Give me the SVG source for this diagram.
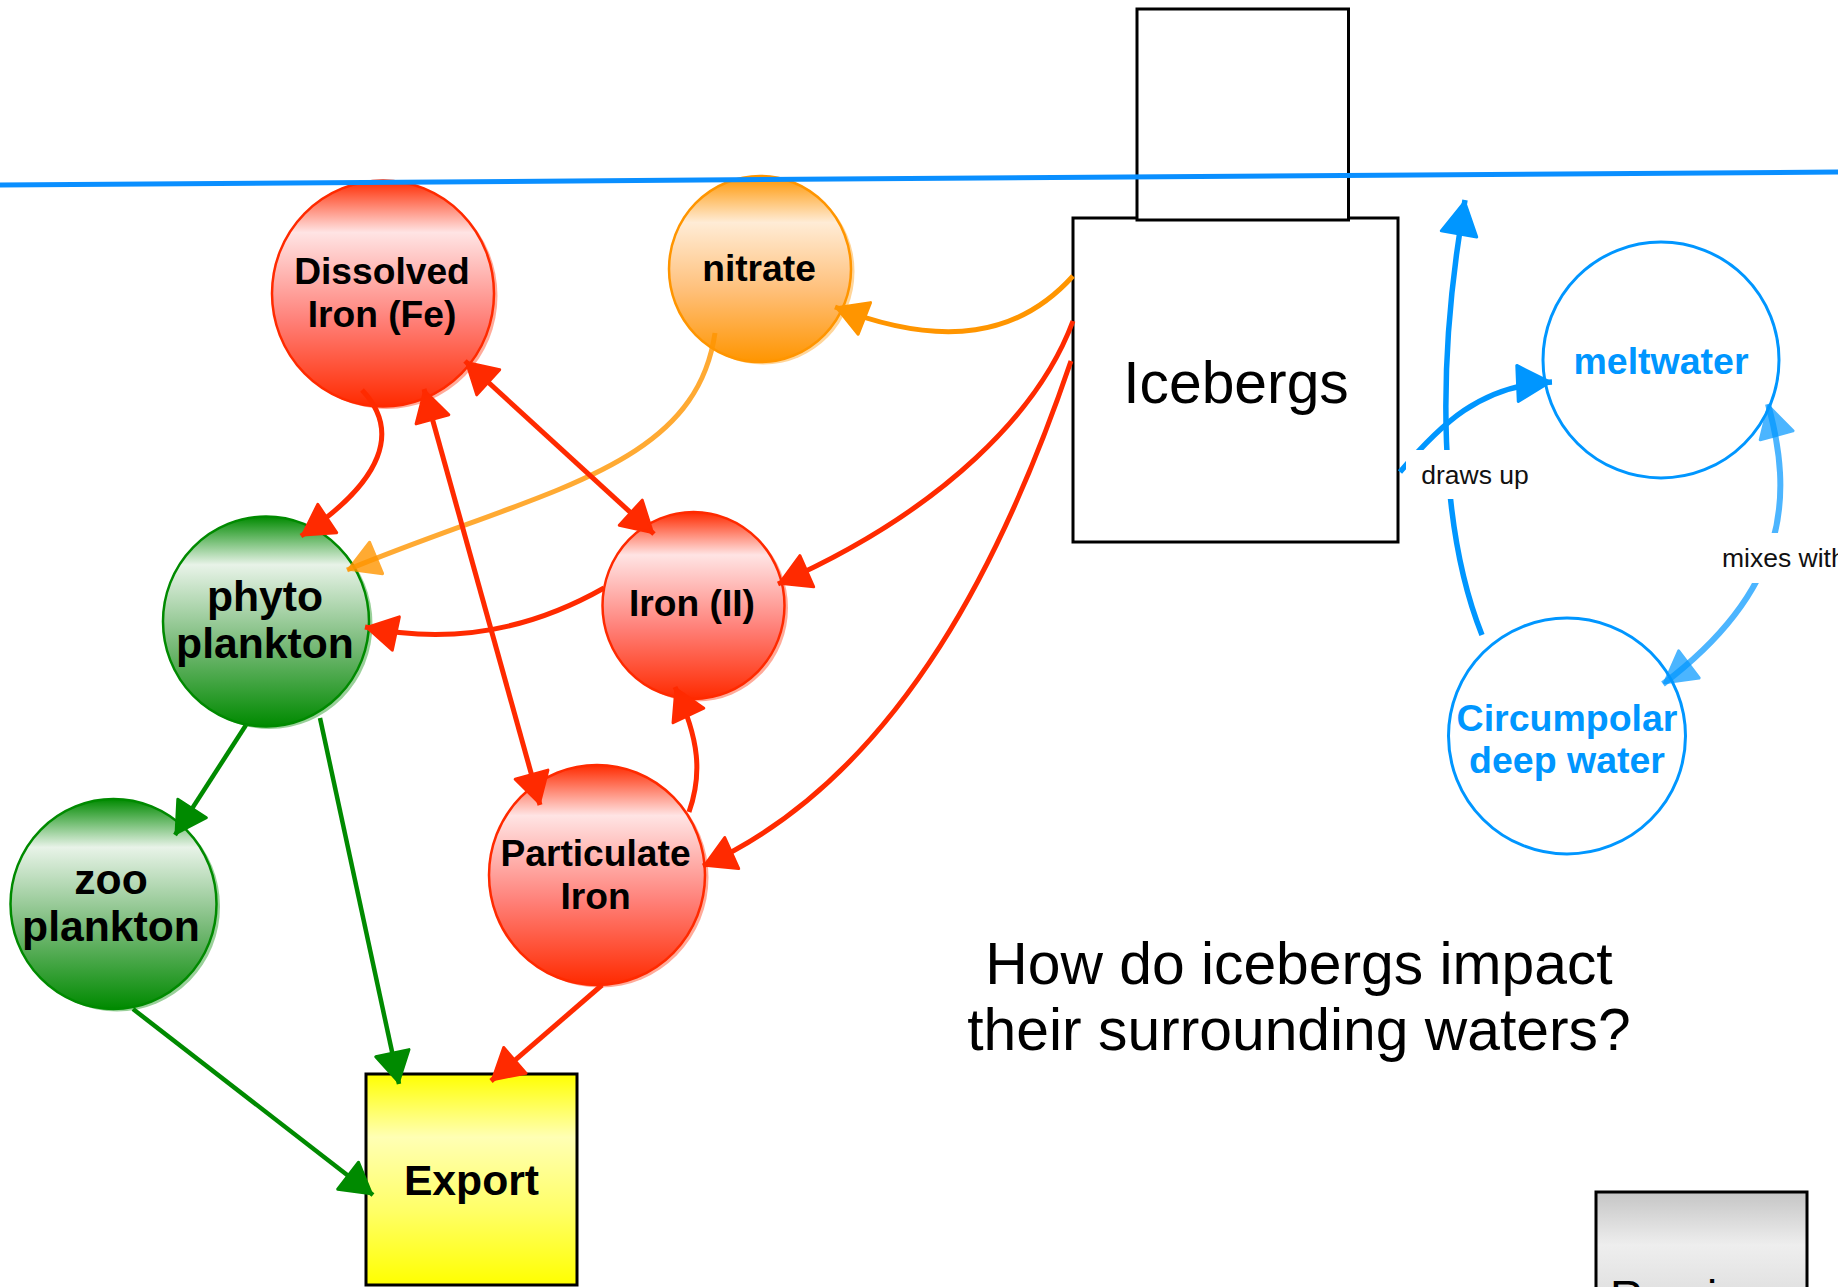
<svg xmlns="http://www.w3.org/2000/svg" width="1838" height="1287" viewBox="0 0 1838 1287">
<style>
text{font-family:"Liberation Sans",Arial,sans-serif;text-anchor:middle;fill:#000}
.b{font-weight:bold;font-size:37.200px}
.g{font-weight:bold;font-size:42.700px}
.w{font-weight:bold;font-size:37.500px;fill:#0096ff}
.l{font-size:26.500px;fill:#111}
.t{font-size:58.800px}
.box{stroke:#000;stroke-width:3;fill:#fff}
.blue{fill:#fff;stroke:#0096ff;stroke-width:3}
.c{fill:none;stroke-width:5}
.red{stroke:#ff2a00}.grn{stroke:#008a00;stroke-width:4.500}.org{stroke:#ff9500}.org2{stroke:#ff9500;stroke-opacity:.8}
.blu{stroke:#0096ff;stroke-width:5.500}.blu2{stroke:#0096ff;stroke-opacity:.7;stroke-width:6}
.sh{opacity:.4}
</style>
<defs>
<linearGradient id="gr" x1="0" y1="0" x2="0" y2="1"><stop offset="0" stop-color="#ff2a00"/><stop offset=".23" stop-color="#ffe4e4"/><stop offset=".62" stop-color="#ff8078"/><stop offset="1" stop-color="#ff2a00"/></linearGradient>
<linearGradient id="gg" x1="0" y1="0" x2="0" y2="1"><stop offset="0" stop-color="#008a00"/><stop offset=".23" stop-color="#e8f3e8"/><stop offset=".62" stop-color="#76b976"/><stop offset="1" stop-color="#008a00"/></linearGradient>
<linearGradient id="go" x1="0" y1="0" x2="0" y2="1"><stop offset="0" stop-color="#ff9500"/><stop offset=".25" stop-color="#ffecd6"/><stop offset=".62" stop-color="#ffbf78"/><stop offset="1" stop-color="#ff9500"/></linearGradient>
<linearGradient id="gy" x1="0" y1="0" x2="0" y2="1"><stop offset="0" stop-color="#ffff00"/><stop offset=".3" stop-color="#ffffb4"/><stop offset=".65" stop-color="#ffff66"/><stop offset="1" stop-color="#ffff00"/></linearGradient>
<linearGradient id="gs" gradientUnits="userSpaceOnUse" x1="0" y1="1191" x2="0" y2="1400"><stop offset="0" stop-color="#c4c4c4"/><stop offset=".26" stop-color="#eeeeee"/><stop offset=".5" stop-color="#e0e0e0"/><stop offset="1" stop-color="#c4c4c4"/></linearGradient>
<marker id="mr" markerUnits="userSpaceOnUse" markerWidth="40" markerHeight="44" refX="33" refY="20" orient="auto-start-reverse" overflow="visible"><path d="M1.500,3 L31,20 L1.500,37z" fill="#ff2a00" stroke="#ff2a00" stroke-width="3" stroke-linejoin="round"/></marker>
<marker id="mg" markerUnits="userSpaceOnUse" markerWidth="40" markerHeight="44" refX="33" refY="20" orient="auto" overflow="visible"><path d="M1.500,3 L31,20 L1.500,37z" fill="#008a00" stroke="#008a00" stroke-width="3" stroke-linejoin="round"/></marker>
<marker id="mo" markerUnits="userSpaceOnUse" markerWidth="40" markerHeight="44" refX="33" refY="20" orient="auto" overflow="visible"><path d="M1.500,3 L31,20 L1.500,37z" fill="#ff9500" stroke="#ff9500" stroke-width="3" stroke-linejoin="round"/></marker>
<marker id="mo2" markerUnits="userSpaceOnUse" markerWidth="40" markerHeight="44" refX="33" refY="20" orient="auto" overflow="visible"><path d="M1.500,3 L31,20 L1.500,37z" fill="#ff9500" stroke="#ff9500" stroke-width="3" stroke-linejoin="round" opacity=".8"/></marker>
<marker id="mb" markerUnits="userSpaceOnUse" markerWidth="44" markerHeight="44" refX="36" refY="20" orient="auto" overflow="visible"><path d="M1.500,2 L34,20 L1.500,38z" fill="#0096ff" stroke="#0096ff" stroke-width="3" stroke-linejoin="round"/></marker>
<marker id="mb2" markerUnits="userSpaceOnUse" markerWidth="44" markerHeight="44" refX="34" refY="20" orient="auto-start-reverse" overflow="visible"><path d="M1.500,3 L32,20 L1.500,37z" fill="#0096ff" stroke="#0096ff" stroke-width="3" stroke-linejoin="round" opacity=".7"/></marker>
</defs>
<rect width="1838" height="1287" fill="#fff"/>
<g id="icebergs"><rect class="box" x="1073" y="218" width="325" height="324"/><text class="t" x="1236" y="403">Icebergs</text></g>
<g id="iceberg-top"><rect class="box" x="1137" y="9" width="211.500" height="211"/></g>
<g id="dissolved-iron"><ellipse class="sh" cx="386.500" cy="296" rx="111" ry="113" fill="#ff2a00"/><ellipse cx="383" cy="293.500" rx="111" ry="113" fill="url(#gr)" stroke="#ff2a00" stroke-width="2.500"/><text class="b" x="382" y="284">Dissolved</text><text class="b" x="382" y="327">Iron (Fe)</text></g>
<g id="nitrate"><ellipse class="sh" cx="763.500" cy="271.500" rx="91" ry="93" fill="#ff9500"/><ellipse cx="760" cy="269" rx="91" ry="93" fill="url(#go)" stroke="#ff9500" stroke-width="2.500"/><text class="b" x="759" y="281">nitrate</text></g>
<g id="phytoplankton"><ellipse class="sh" cx="269.500" cy="624" rx="103" ry="105" fill="#008a00"/><ellipse cx="266" cy="621.500" rx="103" ry="105" fill="url(#gg)" stroke="#008a00" stroke-width="2.500"/><text class="g" x="265" y="611">phyto</text><text class="g" x="265" y="658">plankton</text></g>
<g id="iron-ii"><ellipse class="sh" cx="697" cy="608" rx="91" ry="93.500" fill="#ff2a00"/><ellipse cx="693.500" cy="605.500" rx="91" ry="93.500" fill="url(#gr)" stroke="#ff2a00" stroke-width="2.500"/><text class="b" x="692" y="616">Iron (II)</text></g>
<g id="zooplankton"><ellipse class="sh" cx="117" cy="906.500" rx="103" ry="105" fill="#008a00"/><ellipse cx="113.500" cy="904" rx="103" ry="105" fill="url(#gg)" stroke="#008a00" stroke-width="2.500"/><text class="g" x="111" y="894">zoo</text><text class="g" x="111" y="941">plankton</text></g>
<g id="particulate-iron"><ellipse class="sh" cx="600.500" cy="877.500" rx="108" ry="110" fill="#ff2a00"/><ellipse cx="597" cy="875" rx="108" ry="110" fill="url(#gr)" stroke="#ff2a00" stroke-width="2.500"/><text class="b" x="595.500" y="866">Particulate</text><text class="b" x="595.500" y="909">Iron</text></g>
<g id="export"><rect x="366" y="1074" width="211" height="211" fill="url(#gy)" stroke="#000" stroke-width="3"/><text class="g" x="471.500" y="1195">Export</text></g>
<g id="meltwater"><ellipse class="blue" cx="1661" cy="360" rx="118" ry="118"/><text class="w" x="1661" y="374">meltwater</text></g>
<g id="circumpolar"><ellipse class="blue" cx="1567" cy="736" rx="118.500" ry="118"/><text class="w" x="1567" y="731">Circumpolar</text><text class="w" x="1567" y="773">deep water</text></g>
<g id="grey-box"><rect x="1596" y="1192" width="211" height="120" fill="url(#gs)" stroke="#000" stroke-width="3"/><text style="text-anchor:start;font-size:46px" x="1610" y="1313">Remi</text></g>
<g id="connectors">
<path class="c org" d="M1073,276 C1020,335 945,350 835,307" marker-end="url(#mo)"/>
<path class="c org2" d="M715,333 C695,470 540,490 347,570" marker-end="url(#mo2)"/>
<path class="c red" d="M362,390 C400,430 385,480 301,536" marker-end="url(#mr)"/>
<path class="c red" d="M465,361 L654,534" marker-start="url(#mr)" marker-end="url(#mr)"/>
<path class="c red" d="M424,389 L540,805" marker-start="url(#mr)" marker-end="url(#mr)"/>
<path class="c red" d="M604,588 C530,630 450,645 365,627" marker-end="url(#mr)"/>
<path class="c red" d="M1073,321 C1040,410 945,510 778,584" marker-end="url(#mr)"/>
<path class="c red" d="M1071,361 C1010,540 905,775 703,866" marker-end="url(#mr)"/>
<path class="c red" d="M689,812 C702,775 700,740 675,687" marker-end="url(#mr)"/>
<path class="c grn" d="M246,725 L175,835" marker-end="url(#mg)"/>
<path class="c grn" d="M320,718 L399,1084" marker-end="url(#mg)"/>
<path class="c grn" d="M133,1009 L373,1195" marker-end="url(#mg)"/>
<path class="c red" d="M602,985 L491,1081" marker-end="url(#mr)"/>
<path class="c blu" d="M1482,635 C1440,530 1435,370 1465,200" marker-end="url(#mb)"/>
<path class="c blu" d="M1400,472 C1440,425 1480,385 1552,382" marker-end="url(#mb)"/>
<path class="c blu2" d="M1768,404 C1793,495 1790,588 1663,684" marker-start="url(#mb2)" marker-end="url(#mb2)"/>
<rect x="1406" y="450" width="139" height="49" fill="#fff"/>
<text class="l" x="1475" y="484">draws up</text>
<rect x="1718" y="533" width="120" height="50" fill="#fff"/>
<text class="l" style="text-anchor:start" x="1722" y="567">mixes with</text>
</g>
<path id="waterline" d="M0,185 L1838,172" stroke="#0a8fff" stroke-width="5" fill="none"/>
<g id="title"><text class="t" x="1299" y="984">How do icebergs impact</text><text class="t" x="1299" y="1050">their surrounding waters?</text></g>
</svg>
